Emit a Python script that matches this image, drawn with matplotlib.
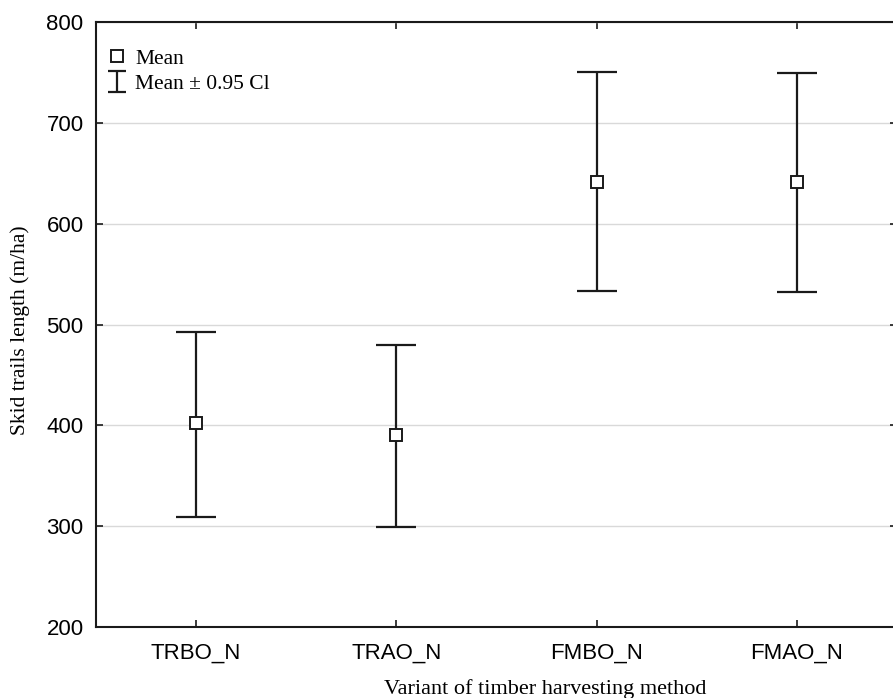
import numpy as np
import matplotlib
matplotlib.use("Agg")
import matplotlib.pyplot as plt
from matplotlib.lines import Line2D
from matplotlib.legend_handler import HandlerErrorbar

# data
variants = ["TRBO_N", "TRAO_N", "FMBO_N", "FMAO_N"]
mean     = [402, 390, 641, 641]
ci_low   = [309, 299, 533, 532]
ci_high  = [493, 480, 750, 749]


class SmallCaps(HandlerErrorbar):
    # legend glyph: short caps instead of the wide ones used in the plot
    def create_artists(self, *a, **kw):
        arts = super().create_artists(*a, **kw)
        for art in arts:
            if isinstance(art, Line2D) and art.get_marker() == "_":
                art.set_markersize(13)
        return arts


W, H = 893, 698
fig = plt.figure(figsize=(W/100, H/100), dpi=100)
# axes box in pixels: left 96, right 897, top 22, bottom 627
ax = fig.add_axes([96/W, (H-627)/H, (897-96)/W, (627-22)/H])

x = np.arange(1, len(variants)+1)
m = np.array(mean, dtype=float)
err = np.vstack([m - np.array(ci_low), np.array(ci_high) - m])

eb = ax.errorbar(x, m, yerr=err, fmt="none", ecolor="#1a1a1a", elinewidth=1.6,
                 capsize=14.5, capthick=1.6, zorder=3)
mk, = ax.plot(x, m, "s", ms=8.5, mfc="white", mec="#1a1a1a", mew=1.4, ls="none",
              zorder=4)

ax.set_xlim(0.5, len(variants)+0.5)
ax.set_ylim(200, 800)
ax.set_yticks(range(200, 801, 100))
ax.set_xticks(x)
ax.set_xticklabels(variants)

for lab in ax.get_xticklabels() + ax.get_yticklabels():
    lab.set_fontfamily("Liberation Sans"); lab.set_fontsize(16)
ax.tick_params(direction="in", length=5, width=1.2, top=True, right=True,
               colors="#1a1a1a", labelcolor="black")
ax.tick_params(axis="x", pad=11)
ax.tick_params(axis="y", pad=9)

ax.grid(axis="y", color="#d9d9d9", lw=1.0)
ax.set_axisbelow(True)
for s in ax.spines.values():
    s.set_linewidth(1.5); s.set_color("#1a1a1a")

ax.set_ylabel("Skid trails length (m/ha)", family="Liberation Serif", fontsize=15.5)
ax.set_xlabel("Variant of timber harvesting method", family="Liberation Serif",
              fontsize=16)
ax.yaxis.set_label_coords(-0.0824, 0.49)
ax.xaxis.set_label_coords(0.5605, -0.086)

leg = ax.legend([mk, eb], ["Mean", "Mean ± 0.95 Cl"], loc="upper left",
                bbox_to_anchor=(0.0122, 0.956), frameon=False,
                prop=dict(family="Liberation Serif", size=15.5),
                handlelength=1.0, handletextpad=0.37, labelspacing=0.25,
                borderaxespad=0, borderpad=0,
                handler_map={type(eb): SmallCaps(yerr_size=0.49)})

fig.savefig("out.png", dpi=100)
